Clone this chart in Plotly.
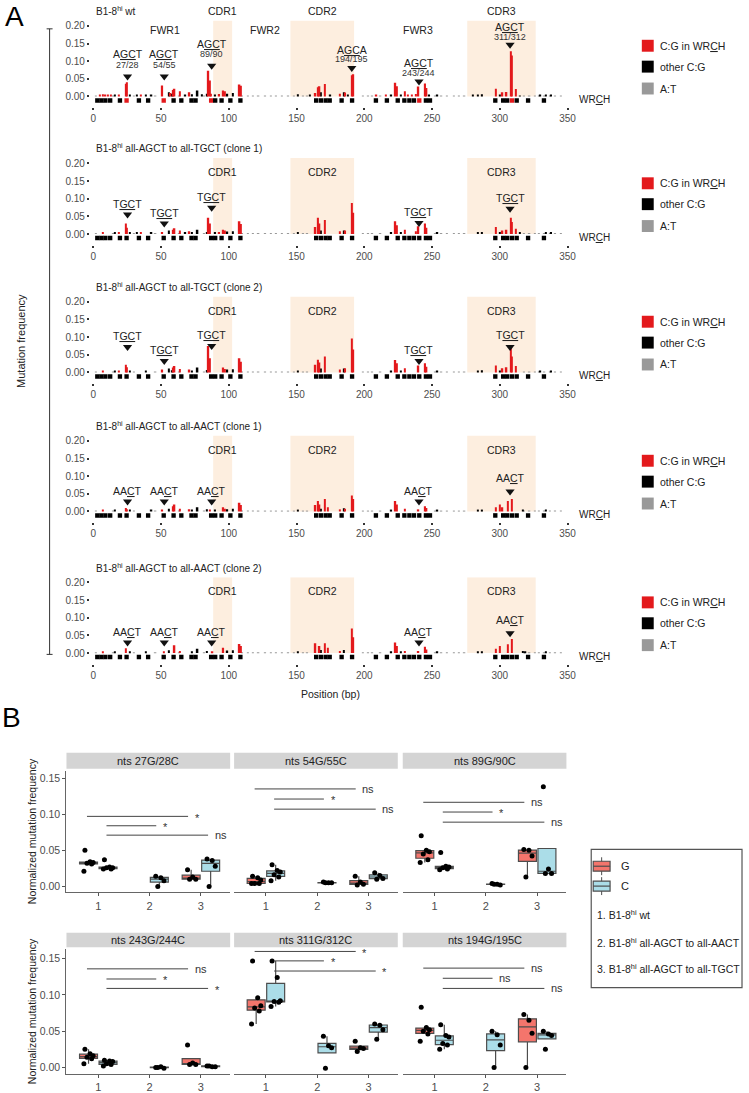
import numpy as np
import plotly.graph_objects as go

W, H = 749, 1093
FONT = "Liberation Sans, Arial, sans-serif"
TXT = "#222222"
TICKC = "#4d4d4d"
RED = "#e3191c"
BLACK = "#000000"
GRAY = "#999999"
SHADE = "#fdeedf"
G_FILL = "#f4756c"
C_FILL = "#abdde8"

# ---------------- Panel A data ----------------
PANEL_TITLES = [
    "B1-8<sup>hi</sup> wt",
    "B1-8<sup>hi</sup> all-AGCT to all-TGCT (clone 1)",
    "B1-8<sup>hi</sup> all-AGCT to all-TGCT (clone 2)",
    "B1-8<sup>hi</sup> all-AGCT to all-AACT (clone 1)",
    "B1-8<sup>hi</sup> all-AGCT to all-AACT (clone 2)",
]
X_TICKS = [0, 50, 100, 150, 200, 250, 300, 350]
Y_TICKS = [0.0, 0.05, 0.10, 0.15, 0.20]
Y_TICKTEXT = ["0.00", "0.05", "0.10", "0.15", "0.20"]

CDR_NAMES = ["CDR1", "CDR2", "CDR3"]
CDR_START = [88.5, 145.5, 276.0]
CDR_END = [102.5, 192.5, 326.5]
FWR_NAMES = ["FWR1", "FWR2", "FWR3"]
FWR_MID = [52.7, 126.6, 240.0]

# WRCH motif squares (position, bp)
WRCH_POS = [3, 6, 9, 12.5, 19.7, 24.6, 33.7, 40.5, 52, 59.3, 65, 72.5, 75.5, 87, 90,
            94.7, 101.2, 108.6, 164.5, 168, 171.5, 174.5, 183.3, 191, 208.6, 216.7,
            224.7, 229.6, 233.3, 236.7, 240.6, 245.5, 248.5, 296.7, 302.5, 305.5, 309,
            312.5, 320.9, 332.6]
HOTSPOT_POS = [24.6, 52, 87, 240.6, 309]

# mutation frequencies (position, frequency)
P1_RED = [(5, 0.004), (7, 0.006), (9, 0.003), (11, 0.003), (13, 0.003), (19, 0.004),
          (24, 0.036), (25, 0.040), (35, 0.004), (51, 0.031), (57, 0.010), (59, 0.018),
          (60, 0.022), (64, 0.015), (71, 0.012), (85, 0.073), (86, 0.045), (87, 0.008),
          (93, 0.007), (96, 0.017), (97, 0.015), (108, 0.034), (109, 0.030), (164, 0.010),
          (166, 0.026), (167, 0.029), (171, 0.035), (182, 0.008), (186, 0.011),
          (191, 0.060), (192, 0.063), (209, 0.004), (216, 0.004), (223, 0.039),
          (224, 0.029), (230, 0.015), (232, 0.005), (235, 0.004), (238, 0.007),
          (240, 0.028), (245, 0.037), (246, 0.024), (297, 0.022), (302, 0.012),
          (305, 0.013), (308, 0.128), (309, 0.116), (312, 0.021)]
P1_BLACK = [(16, 0.003), (27, 0.005), (32, 0.004), (39, 0.004), (43, 0.003), (56, 0.012),
            (58, 0.008), (68, 0.004), (73, 0.006), (77, 0.017), (80, 0.006), (84, 0.008),
            (90, 0.004), (99, 0.008), (103, 0.010), (151, 0.006), (160, 0.003),
            (168, 0.012), (175, 0.003), (185, 0.012), (188, 0.004), (220, 0.003),
            (227, 0.004), (248, 0.003), (254, 0.004), (280, 0.003), (284, 0.004),
            (287, 0.006), (300, 0.003), (315, 0.002), (330, 0.003), (334, 0.003),
            (338, 0.005)]
P2_RED = [(7, 0.004), (19, 0.004), (24, 0.030), (25, 0.018), (35, 0.004), (51, 0.006),
          (59, 0.012), (60, 0.016), (64, 0.010), (71, 0.008), (85, 0.046), (86, 0.030),
          (93, 0.005), (96, 0.012), (97, 0.010), (108, 0.036), (109, 0.028), (164, 0.020),
          (166, 0.046), (167, 0.030), (171, 0.040), (182, 0.008), (186, 0.010),
          (191, 0.088), (192, 0.060), (223, 0.036), (224, 0.025), (230, 0.012),
          (238, 0.008), (240, 0.022), (245, 0.030), (246, 0.018), (297, 0.020),
          (302, 0.010), (305, 0.012), (308, 0.046), (309, 0.034), (312, 0.015)]
P2_BLACK = [(16, 0.003), (27, 0.004), (32, 0.003), (43, 0.003), (56, 0.010), (68, 0.004),
            (73, 0.005), (77, 0.012), (84, 0.006), (90, 0.004), (99, 0.007), (103, 0.008),
            (151, 0.005), (168, 0.010), (185, 0.010), (220, 0.003), (227, 0.004),
            (254, 0.003), (284, 0.004), (287, 0.005), (300, 0.003), (315, 0.003),
            (334, 0.003), (338, 0.004)]
P3_RED = [(7, 0.004), (19, 0.003), (24, 0.022), (25, 0.015), (51, 0.008), (59, 0.014),
          (60, 0.018), (64, 0.010), (71, 0.008), (85, 0.075), (86, 0.040), (96, 0.014),
          (97, 0.010), (108, 0.040), (109, 0.030), (164, 0.022), (166, 0.036),
          (167, 0.028), (171, 0.045), (182, 0.008), (186, 0.012), (191, 0.096),
          (192, 0.065), (223, 0.035), (224, 0.026), (230, 0.012), (240, 0.020),
          (245, 0.026), (246, 0.016), (297, 0.020), (302, 0.012), (305, 0.015),
          (308, 0.070), (309, 0.045), (312, 0.018)]
P3_BLACK = [(16, 0.003), (27, 0.004), (39, 0.003), (56, 0.011), (58, 0.006), (73, 0.005),
            (77, 0.014), (84, 0.007), (99, 0.008), (103, 0.009), (151, 0.005),
            (168, 0.011), (185, 0.011), (220, 0.003), (227, 0.004), (254, 0.003),
            (284, 0.004), (287, 0.006), (300, 0.003), (330, 0.003), (338, 0.004)]
P4_RED = [(7, 0.003), (24, 0.010), (25, 0.006), (51, 0.004), (59, 0.015), (60, 0.020),
          (64, 0.008), (71, 0.006), (86, 0.005), (96, 0.012), (97, 0.008), (108, 0.025),
          (109, 0.018), (164, 0.018), (166, 0.030), (167, 0.020), (171, 0.035),
          (173, 0.012), (182, 0.006), (186, 0.008), (191, 0.045), (192, 0.035),
          (223, 0.030), (224, 0.020), (230, 0.008), (240, 0.006), (245, 0.015),
          (246, 0.010), (297, 0.012), (300, 0.020), (302, 0.012), (306, 0.030),
          (309, 0.035)]
P4_BLACK = [(16, 0.003), (27, 0.003), (43, 0.003), (56, 0.008), (73, 0.005), (77, 0.012),
            (84, 0.006), (90, 0.003), (99, 0.006), (103, 0.008), (151, 0.004),
            (168, 0.008), (185, 0.009), (220, 0.003), (254, 0.003), (284, 0.003),
            (287, 0.005), (317, 0.005), (334, 0.003)]
P5_RED = [(7, 0.003), (24, 0.014), (52, 0.005), (60, 0.022), (64, 0.006), (88, 0.005),
          (96, 0.015), (108, 0.026), (109, 0.020), (164, 0.028), (167, 0.020),
          (171, 0.028), (173, 0.015), (182, 0.006), (191, 0.070), (192, 0.045),
          (223, 0.030), (224, 0.020), (230, 0.006), (240, 0.006), (245, 0.018),
          (246, 0.010), (297, 0.012), (300, 0.020), (306, 0.025), (309, 0.040)]
P5_BLACK = [(16, 0.003), (27, 0.003), (39, 0.003), (56, 0.008), (73, 0.005), (77, 0.012),
            (84, 0.006), (99, 0.007), (103, 0.008), (151, 0.004), (168, 0.009),
            (185, 0.009), (220, 0.003), (227, 0.003), (254, 0.003), (284, 0.003),
            (287, 0.005), (317, 0.006), (319, 0.005), (334, 0.003)]
AT_MARKS = [(2, 0.002), (15, 0.002), (30, 0.002), (46, 0.002), (63, 0.002), (82, 0.002),
            (110, 0.002), (114, 0.002), (118, 0.001), (122, 0.002), (127, 0.002),
            (131, 0.001), (135, 0.002), (139, 0.002), (144, 0.001), (148, 0.002),
            (155, 0.002), (158, 0.001), (199, 0.002), (203, 0.002), (206, 0.001),
            (212, 0.002), (252, 0.002), (257, 0.001), (261, 0.002), (266, 0.002),
            (270, 0.001), (274, 0.002), (318, 0.002), (322, 0.001), (326, 0.002),
            (329, 0.002), (333, 0.002), (337, 0.001), (341, 0.002), (345, 0.002)]
RED_SETS = [P1_RED, P2_RED, P3_RED, P4_RED, P5_RED]
BLACK_SETS = [P1_BLACK, P2_BLACK, P3_BLACK, P4_BLACK, P5_BLACK]

# motif labels
WT_MOTIF_BP = [25.3, 52.4, 87.4, 190.8, 240.4, 307.6]
WT_MOTIFS = ["A<u>GC</u>T", "A<u>GC</u>T", "A<u>GC</u>T", "A<u>GC</u>A", "A<u>GC</u>T", "A<u>GC</u>T"]
WT_SITES = ["27/28", "54/55", "89/90", "194/195", "243/244", "311/312"]
MUT_MOTIF_BP = [25.3, 52.4, 87.4, 240.4, 307.6]
MUT_MOTIFS = ["T<u>GC</u>T", "T<u>GC</u>T", "AA<u>C</u>T", "AA<u>C</u>T"]

# ---------------- Panel B data ----------------
FACET_TITLES = ["nts 27G/28C", "nts 54G/55C", "nts 89G/90C",
                "nts 243G/244C", "nts 311G/312C", "nts 194G/195C"]
GROUPS = [1, 2, 3]
NT27_G = [[0.050, 0.034, 0.033, 0.032, 0.031, 0.021], [], [0.023, 0.013, 0.010, 0.010]]
NT27_C = [[0.037, 0.027, 0.026, 0.026, 0.024, 0.024], [0.014, 0.012, 0.008, 0.000],
          [0.038, 0.036, 0.028, 0.000]]
NT54_G = [[0.014, 0.012, 0.009, 0.004, 0.004, 0.004], [], [0.014, 0.006, 0.003, 0.002]]
NT54_C = [[0.030, 0.022, 0.020, 0.016, 0.013, 0.008], [0.006, 0.005, 0.005, 0.005],
          [0.019, 0.015, 0.011, 0.010]]
NT89_G = [[0.070, 0.050, 0.048, 0.045, 0.037, 0.033], [], [0.051, 0.050, 0.042, 0.013]]
NT89_C = [[0.047, 0.028, 0.027, 0.026, 0.024, 0.023], [0.004, 0.003, 0.002, 0.003],
          [0.138, 0.024, 0.018, 0.018]]
NT243_G = [[0.025, 0.019, 0.016, 0.014, 0.012, 0.005], [], [0.031, 0.006, 0.004, 0.004]]
NT243_C = [[0.010, 0.009, 0.008, 0.005, 0.004, 0.002], [0.000, 0.001, -0.001, 0.000],
           [0.002, 0.001, 0.001, 0.002]]
NT311_G = [[0.147, 0.096, 0.085, 0.082, 0.078, 0.060], [], [0.036, 0.027, 0.026, 0.022]]
NT311_C = [[0.147, 0.124, 0.092, 0.091, 0.090, 0.084], [0.043, 0.030, 0.027, -0.001],
           [0.060, 0.058, 0.052, 0.039]]
NT194_G = [[0.083, 0.055, 0.052, 0.050, 0.046, 0.036], [], [0.073, 0.065, 0.047, 0.000]]
NT194_C = [[0.059, 0.044, 0.042, 0.033, 0.031, 0.025], [0.050, 0.045, 0.031, 0.000],
           [0.050, 0.046, 0.044, 0.025]]
G_SETS = [NT27_G, NT54_G, NT89_G, NT243_G, NT311_G, NT194_G]
C_SETS = [NT27_C, NT54_C, NT89_C, NT243_C, NT311_C, NT194_C]
SIG_Y = [[0.097, 0.084, 0.071], [0.135, 0.121, 0.107], [0.1165, 0.103, 0.089],
         [0.136, 0.122, 0.109], [0.160, 0.147, 0.133], [0.137, 0.123, 0.109]]
SIG_LABELS = [["*", "*", "ns"], ["ns", "*", "ns"], ["ns", "*", "ns"],
              ["ns", "*", "*"], ["*", "*", "*"], ["ns", "ns", "ns"]]
B_YTICKS = [0.0, 0.05, 0.10, 0.15]
B_YTICKTEXT = ["0.00", "0.05", "0.10", "0.15"]
LEGEND_GROUPS = ["1. B1-8<sup>hi</sup> wt",
                 "2. B1-8<sup>hi</sup> all-AGCT to all-AACT",
                 "3. B1-8<sup>hi</sup> all-AGCT to all-TGCT"]

# ---------------- layout geometry ----------------
ZERO_PX = [97, 235.3, 374.5, 514.3, 656.7]
BP_MIN, BP_MAX = -2.5, 352.0
X0_PX, PX_PER_BP = 94.0, 1.366
Y_MIN, Y_MAX = -0.03, 0.215
PXU = 355.0
SQ_BASE, SQ_H, SQ_W = -0.0177, 0.0129, 3.2

COLS = [(67, 232), (236, 401), (406, 571)]
ROWS = [dict(strip=(757, 773), zero=891.3, pxu=726.0, rng=(-0.0079, 0.160)),
        dict(strip=(938, 952.5), zero=1073.3, pxu=728.7, rng=(-0.0092, 0.163))]
B_XRANGE = (0.38, 3.57)
DODGE, BOX_W = 0.19, 0.35
JITTER = [-0.07, 0.03, 0.09, -0.03, 0.06, -0.09]
SIG_X0 = [0.78, 1.16, 1.16]
SIG_X1 = [2.75, 2.13, 3.14]


def fxp(p):
    return p / W


def fyp(p):
    return 1 - p / H


def bp_px(bp):
    return X0_PX + bp * PX_PER_BP


fig = go.Figure()
annotations = []
shapes = []
axes = {}


def add_ann(x, y, text, size, xref="paper", yref="paper", color=TXT, **kw):
    if xref == "paper":
        x = fxp(x)
    if yref == "paper":
        y = fyp(y)
    d = dict(x=x, y=y, text=text, xref=xref, yref=yref, showarrow=False,
             xanchor="center", yanchor="middle",
             font=dict(family=FONT, size=size, color=color))
    d.update(kw)
    annotations.append(d)


def paper_rect(x0, y0, x1, y1, **kw):
    d = dict(type="rect", xref="paper", yref="paper", x0=fxp(x0), x1=fxp(x1),
             y0=fyp(y1), y1=fyp(y0))
    d.update(kw)
    shapes.append(d)


def paper_line(x0, y0, x1, y1, color="#333333", width=1):
    shapes.append(dict(type="line", xref="paper", yref="paper", x0=fxp(x0), x1=fxp(x1),
                       y0=fyp(y0), y1=fyp(y1), line=dict(color=color, width=width)))


# ---------------- Panel A ----------------
x_left = bp_px(BP_MIN)
x_right = bp_px(BP_MAX)
for i in range(5):
    n = i + 1
    xa, ya = ("x", "y") if n == 1 else (f"x{n}", f"y{n}")
    xk, yk = ("xaxis", "yaxis") if n == 1 else (f"xaxis{n}", f"yaxis{n}")
    Z = ZERO_PX[i]
    top = Z - Y_MAX * PXU
    bot = Z - Y_MIN * PXU
    axes[xk] = dict(domain=[fxp(x_left), fxp(x_right)], range=[BP_MIN, BP_MAX], anchor=ya,
                    tickvals=X_TICKS, ticks="outside", ticklen=2, tickwidth=1.5,
                    tickcolor="#333333", tickfont=dict(family=FONT, size=10, color=TICKC),
                    showgrid=False, zeroline=False, showline=False)
    axes[yk] = dict(domain=[fyp(bot), fyp(top)], range=[Y_MIN, Y_MAX], anchor=xa,
                    tickvals=Y_TICKS, ticktext=Y_TICKTEXT, ticks="outside", ticklen=2,
                    tickwidth=1.5, tickcolor="#333333",
                    tickfont=dict(family=FONT, size=10, color=TICKC),
                    showgrid=False, zeroline=False, showline=False)
    # CDR shading
    for s, e in zip(CDR_START, CDR_END):
        shapes.append(dict(type="rect", xref=xa, yref=ya, x0=s, x1=e, y0=0, y1=Y_MAX,
                           fillcolor=SHADE, line=dict(width=0), layer="below"))
    # bars
    for data, col in [(AT_MARKS, GRAY), (BLACK_SETS[i], BLACK), (RED_SETS[i], RED)]:
        fig.add_trace(go.Bar(x=[p for p, _ in data], y=[v for _, v in data], width=1.1,
                             marker=dict(color=col, line=dict(width=0)), xaxis=xa, yaxis=ya,
                             showlegend=False, hoverinfo="skip"))
    # WRCH squares
    sq_colors = [RED if (n == 1 and p in HOTSPOT_POS) else BLACK for p in WRCH_POS]
    fig.add_trace(go.Bar(x=WRCH_POS, y=[SQ_H] * len(WRCH_POS), base=SQ_BASE, width=SQ_W,
                         marker=dict(color=sq_colors, line=dict(width=0)), xaxis=xa,
                         yaxis=ya, showlegend=False, hoverinfo="skip"))
    # title
    add_ann(95, Z - 86, PANEL_TITLES[i], 10, xanchor="left")
    # region labels
    if n == 1:
        for nm, s, e in zip(CDR_NAMES, CDR_START, CDR_END):
            add_ann(bp_px((s + e) / 2), Z - 86, nm, 10.5)
        for nm, m in zip(FWR_NAMES, FWR_MID):
            add_ann(m, 67 / PXU, nm, 10.5, xref=xa, yref=ya)
    else:
        for nm, s, e in zip(CDR_NAMES, CDR_START, CDR_END):
            add_ann((s + e) / 2, 62 / PXU, nm, 10.5, xref=xa, yref=ya)
    # motif annotations
    if n == 1:
        motif_up = [43, 43, 53, 47, 34, 70]
        site_up = [32, 32, 43, 37.5, 24, 60]
        tri_up = [20, 20, 31, 28.5, 15, 52]
        for bp, mt, st, mu, su in zip(WT_MOTIF_BP, WT_MOTIFS, WT_SITES, motif_up, site_up):
            add_ann(bp, mu / PXU, mt, 10.5, xref=xa, yref=ya)
            add_ann(bp, su / PXU, st, 9, xref=xa, yref=ya, color="#333333")
        tri_x = WT_MOTIF_BP
    else:
        motif_up = {2: [30, 21, 37.6, 22, 36.3], 3: [36.5, 22.5, 37.5, 22.5, 37.5],
                    4: [21, 21, 21, 21, 34], 5: [21.7, 21.7, 21.7, 21.7, 33.4]}[n]
        tri_up = {2: [19.6, 10.5, 26.3, 11, 25.3], 3: [25.5, 11.5, 26.5, 11.5, 25.5],
                  4: [10, 10, 10, 10, 20], 5: [10.7, 10.7, 10.7, 10.7, 20]}[n]
        for bp, mu in zip(MUT_MOTIF_BP, motif_up):
            add_ann(bp, mu / PXU, MUT_MOTIFS[i - 1], 10.5, xref=xa, yref=ya)
        tri_x = MUT_MOTIF_BP
    fig.add_trace(go.Scatter(x=tri_x, y=[t / PXU for t in tri_up], mode="markers",
                             marker=dict(symbol="triangle-down", size=8, color="#111111"),
                             xaxis=xa, yaxis=ya, showlegend=False, hoverinfo="skip"))
    # WRCH label
    add_ann(582, Z + 3.5, "WR<u>C</u>H", 10, xanchor="left")
    # legend
    for off, col, lab in [(-51, RED, "C:G in WR<u>C</u>H"), (-30, BLACK, "other C:G"),
                          (-8, GRAY, "A:T")]:
        paper_rect(647, Z + off - 6, 659, Z + off + 6, fillcolor=col, line=dict(width=0))
        add_ann(663, Z + off, lab, 10.5, xanchor="left")

# bracket + labels
paper_line(50, 29, 50, 658, color="#333333", width=1)
paper_line(47, 29, 53, 29, color="#333333", width=1)
paper_line(47, 658, 53, 658, color="#333333", width=1)
add_ann(21, 343, "Mutation frequency", 11, textangle=-90)
add_ann(333, 698, "Position (bp)", 10.5)
add_ann(15, 17, "A", 28, color="#000000")
add_ann(12, 721, "B", 28, color="#000000")

# ---------------- Panel B ----------------
for f in range(6):
    n = 6 + f
    r, c = divmod(f, 3)
    xa, ya = f"x{n}", f"y{n}"
    row = ROWS[r]
    c0, c1 = COLS[c]
    top = row["zero"] - row["rng"][1] * row["pxu"]
    bot = row["zero"] - row["rng"][0] * row["pxu"]
    axes[f"xaxis{n}"] = dict(domain=[fxp(c0), fxp(c1)], range=list(B_XRANGE), anchor=ya,
                             tickvals=GROUPS, ticktext=[str(g) for g in GROUPS],
                             ticks="outside", ticklen=3, tickcolor="#555555",
                             tickfont=dict(family=FONT, size=11, color=TICKC),
                             showline=True, linecolor="#666666", linewidth=1.4,
                             showgrid=False, zeroline=False)
    ydict = dict(domain=[fyp(bot), fyp(top)], range=list(row["rng"]), anchor=xa,
                 showgrid=False, zeroline=False)
    if c == 0:
        ydict.update(tickvals=B_YTICKS, ticktext=B_YTICKTEXT, ticks="outside", ticklen=3,
                     tickcolor="#555555", tickfont=dict(family=FONT, size=10.5, color=TICKC),
                     showline=True, linecolor="#666666", linewidth=1.4)
    else:
        ydict.update(tickvals=[], showticklabels=False, ticks="", showline=False)
    axes[f"yaxis{n}"] = ydict
    # strip
    s0, s1 = row["strip"]
    paper_rect(c0, s0, c1, s1, fillcolor="#d4d4d4", line=dict(width=0))
    add_ann((c0 + c1) / 2, (s0 + s1) / 2, FACET_TITLES[f], 11)
    # boxes
    for vals_sets, sign, fill in [(G_SETS[f], -1, G_FILL), (C_SETS[f], 1, C_FILL)]:
        for g, vals in zip(GROUPS, vals_sets):
            if not vals:
                continue
            a = np.sort(np.array(vals, dtype=float))
            q1, med, q3 = np.percentile(a, [25, 50, 75])
            iqr = q3 - q1
            lo = a[a >= q1 - 1.5 * iqr].min()
            hi = a[a <= q3 + 1.5 * iqr].max()
            xc = g + sign * DODGE
            fig.add_trace(go.Box(x=[xc], q1=[q1], median=[med], q3=[q3], lowerfence=[lo],
                                 upperfence=[hi], width=BOX_W, whiskerwidth=0,
                                 fillcolor=fill, line=dict(color="#4d4d4d", width=1.2),
                                 boxpoints=False, xaxis=xa, yaxis=ya, showlegend=False,
                                 hoverinfo="skip"))
            fig.add_trace(go.Scatter(x=[xc + JITTER[k % len(JITTER)] for k in range(len(vals))],
                                     y=vals, mode="markers",
                                     marker=dict(color="#000000", size=5),
                                     xaxis=xa, yaxis=ya, showlegend=False, hoverinfo="skip"))
    # significance
    for k in range(3):
        shapes.append(dict(type="line", xref=xa, yref=ya, x0=SIG_X0[k], x1=SIG_X1[k],
                           y0=SIG_Y[f][k], y1=SIG_Y[f][k],
                           line=dict(color="#444444", width=1)))
        lab = SIG_LABELS[f][k]
        add_ann(SIG_X1[k] + 0.09, SIG_Y[f][k] + (0.0 if lab == "ns" else -0.002), lab, 11,
                xref=xa, yref=ya, xanchor="left", color="#333333")

add_ann(33, 836, "Normalized mutation frequency", 10.5, textangle=-90)
add_ann(33, 1017, "Normalized mutation frequency", 10.5, textangle=-90)

# legend box for B
paper_rect(596, 854, 748, 993, fillcolor="rgba(0,0,0,0)", line=dict(color="#555555", width=1.2))
for yc, fill, lab in [(871, G_FILL, "G"), (891, C_FILL, "C")]:
    paper_line(606.5, yc - 9, 606.5, yc + 9, color="#4d4d4d", width=1)
    paper_rect(598, yc - 5, 615, yc + 5, fillcolor=fill, line=dict(color="#4d4d4d", width=1.2))
    paper_line(598, yc, 615, yc, color="#4d4d4d", width=1.2)
    add_ann(624, yc, lab, 11, xanchor="left")
for yc, lab in zip([920, 947.5, 974], LEGEND_GROUPS):
    add_ann(600, yc, lab, 10.5, xanchor="left")

fig.update_layout(width=W, height=H, autosize=False, margin=dict(l=0, r=0, t=0, b=0),
                  paper_bgcolor="white", plot_bgcolor="rgba(0,0,0,0)", barmode="overlay",
                  showlegend=False, annotations=annotations, shapes=shapes,
                  font=dict(family=FONT), **axes)
fig.write_html("out.html")
